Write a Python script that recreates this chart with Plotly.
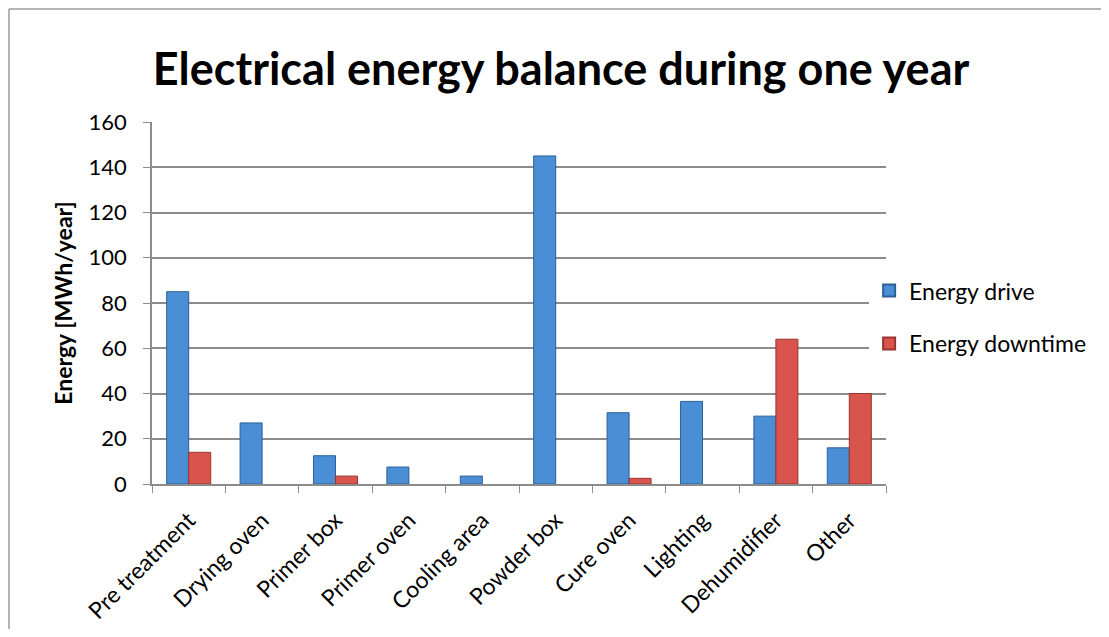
import plotly.graph_objects as go

categories = ["Pre treatment", "Drying oven", "Primer box", "Primer oven", "Cooling area",
              "Powder box", "Cure oven", "Lighting", "Dehumidifier", "Other"]
energy_drive = [85, 27, 12.5, 7.5, 3.5, 145, 31.5, 36.5, 30, 16]
energy_downtime = [14, 0, 3.5, 0, 0, 0, 2.5, 0, 64, 40]
y_ticks = [0, 20, 40, 60, 80, 100, 120, 140, 160]

FONT = "Lato, 'Open Sans', sans-serif"


def outline(values):
    return [1 if v > 0 else 0 for v in values]


fig = go.Figure()
fig.add_trace(go.Bar(
    x=categories, y=energy_drive, name="Energy drive", legendgroup="a",
    marker=dict(color="#4a8ed5",
                line=dict(color="#2f5f96", width=outline(energy_drive))),
))
fig.add_trace(go.Bar(
    x=categories, y=energy_downtime, name="Energy downtime", legendgroup="b",
    marker=dict(color="#d9544d",
                line=dict(color="#9a3430", width=outline(energy_downtime))),
))

W, H = 1093, 621
L, T = 144, 114
PW, PH = 734, 362

bx = (1 - L) / PW
by = 1 + (T - 1) / PH

fig.update_layout(
    width=W, height=H,
    margin=dict(l=L, r=W - L - PW, t=T, b=H - T - PH, autoexpand=False),
    paper_bgcolor="white", plot_bgcolor="white",
    bargap=0.4, bargroupgap=0,
    title=dict(text="<b>Electrical energy balance during one year</b>",
               font=dict(family=FONT, size=45, color="black"),
               xref="container", yref="container",
               x=553 / W, xanchor="center", y=1 - 61 / H, yanchor="middle"),
    font=dict(family=FONT, color="black"),
    legend=dict(x=0.977, y=0.461, xanchor="left", yanchor="middle",
                font=dict(family=FONT, size=23, color="black"),
                traceorder="grouped", tracegroupgap=20, itemsizing="constant"),
    xaxis=dict(tickangle=-45, tickfont=dict(size=23), showline=True,
               linecolor="#8c8c8c", linewidth=1.5, ticks="outside",
               tickson="boundaries", tickcolor="#8c8c8c", ticklen=7,
               ticklabelstandoff=12, showgrid=False),
    yaxis=dict(range=[0, 160], tickvals=y_ticks, tickfont=dict(size=22),
               showline=True, linecolor="#8c8c8c", linewidth=1.5,
               gridcolor="#8c8c8c", gridwidth=1.5, ticks="outside",
               tickcolor="#8c8c8c", ticklen=7, zeroline=False,
               ticklabelstandoff=12,
               title=dict(text="<b>Energy [MWh/year]</b>", font=dict(size=23),
                          standoff=10)),
    shapes=[
        dict(type="line", xref="paper", yref="paper",
             x0=bx, x1=1.5, y0=by, y1=by,
             line=dict(color="#9a9a9a", width=1.5), layer="below"),
        dict(type="line", xref="paper", yref="paper",
             x0=bx, x1=bx, y0=-0.6, y1=by,
             line=dict(color="#9a9a9a", width=1.5), layer="below"),
    ],
)

fig.write_html("out.html")
